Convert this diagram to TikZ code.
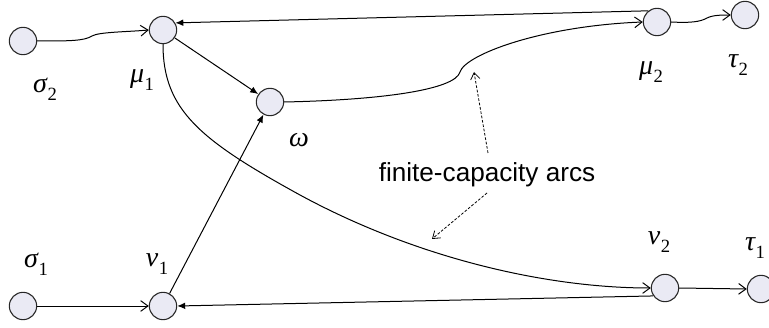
\documentclass[tikz,border=0pt]{standalone}
\usepackage{fontspec}
\newfontfamily\arial{Liberation Sans}
\newfontfamily\timesf{Liberation Serif}
\usetikzlibrary{arrows.meta}
\definecolor{nodefill}{RGB}{234,234,244}
\newcommand{\gsub}[2]{{\timesf\itshape #1}\kern0.02em\raisebox{-0.3em}{\timesf\fontsize{14}{15}\selectfont #2}}
\tikzset{
  vert/.style={circle,draw=black!85,fill=nodefill,line width=0.8pt,minimum size=20.5pt,inner sep=0pt},
  lab/.style={inner sep=0pt,font=\fontsize{21}{23}\selectfont},
  arc/.style={line width=0.75pt},
  openhead/.style={arc,-{Straight Barb[length=5.5pt,width=8pt]}},
  fillhead/.style={arc,-{Latex[length=6pt,width=5pt]}},
  note/.style={line width=0.6pt,dash pattern=on 2pt off 1.3pt,-{Straight Barb[length=5pt,width=7pt]}}
}
\begin{document}
\begin{tikzpicture}[x=0.75pt,y=-0.75pt]
\useasboundingbox (0,0) rectangle (769,328);
\clip (0,0) rectangle (769,328);
% vertices
\node[vert] (s2) at (23,41) {};
\node[vert] (m1) at (163,30) {};
\node[vert] (w) at (270,102) {};
\node[vert] (m2) at (657,22) {};
\node[vert] (t2) at (745,15) {};
\node[vert] (s1) at (23,306) {};
\node[vert] (n1) at (163,306) {};
\node[vert] (n2) at (665,288) {};
\node[vert] (t1) at (761,289) {};
% labels
\node[lab] (ls2) at (45,89) {\gsub{σ}{2}};
\node[lab] (lm1) at (142,80) {\gsub{μ}{1}};
\node[lab] (lw) at (299,140) {{\timesf\itshape ω}};
\node[lab] (lm2) at (651,72) {\gsub{μ}{2}};
\node[lab] (lt2) at (738,65) {\gsub{τ}{2}};
\node[lab] (ls1) at (36,264) {\gsub{σ}{1}};
\node[lab] (ln1) at (157,264) {\gsub{ν}{1}};
\node[lab] (ln2) at (659,242) {\gsub{ν}{2}};
\node[lab] (lt1) at (755,248) {\gsub{τ}{1}};
\node[inner sep=0pt,font=\arial\fontsize{19.6}{22}\selectfont] (fc) at (487,175) {finite-capacity arcs};
% arcs
\draw[openhead] (s2.east) .. controls (70,41) and (84,41) .. (92,36) .. controls (99,32) and (125,32) .. (m1.west);
\draw[fillhead] (m1) -- (w);
\draw[fillhead] (n1) -- (w);
\draw[fillhead] (m2.128) -- (m1.30);
\draw[openhead] (w.east) .. controls (380,100) and (455,90) .. (460,72) .. controls (465,55) and (540,26) .. (m2.west);
\draw[openhead] (m2.east) .. controls (690,23) and (700,22) .. (707,18) .. controls (713,15) and (722,15) .. (t2.west);
\draw[openhead] (m1.south) .. controls (163,110) and (200,140) .. (300,195) .. controls (420,260) and (550,288) .. (n2.west);
\draw[fillhead] (n2.214) -- (n1.east);
\draw[openhead] (s1.east) -- (n1.west);
\draw[openhead] (n2.east) -- (t1.west);
% annotation arrows
\coordinate (up) at (474,72);
\coordinate (dn) at (432,239);
\draw[note] (488,153) -- (up);
\draw[note] (487,193) -- (dn);
\end{tikzpicture}
\end{document}
